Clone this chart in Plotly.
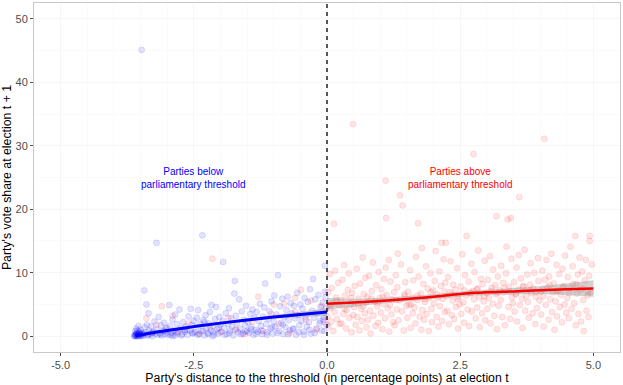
import plotly.graph_objects as go

# ---------------- data ----------------
blue_x = [
    -3.62,-3.61,-3.60,-3.60,-3.59,-3.58,-3.58,-3.57,-3.56,-3.55,-3.55,-3.54,-3.53,-3.52,-3.51,-3.50,-3.49,-3.48,-3.47,-3.46,-3.60,-3.58,-3.56,-3.54,-3.52,-3.50,
    -3.44,-3.42,-3.40,-3.38,-3.36,-3.34,-3.32,-3.30,-3.28,-3.26,-3.24,-3.22,-3.20,-3.18,-3.16,-3.14,-3.12,-3.10,-3.08,-3.06,-3.04,-3.02,-3.00,-3.43,-3.39,-3.20,-2.96,-3.35,-3.48,
    -2.98,-2.95,-2.92,-2.90,-2.87,-2.85,-2.82,-2.80,-2.77,-2.75,-2.72,-2.70,-2.67,-2.65,-2.62,-2.60,-2.57,-2.56,-2.54,-2.52,-2.50,-2.85,-2.68,-2.90,
    -2.48,-2.46,-2.44,-2.42,-2.40,-2.38,-2.36,-2.34,-2.32,-2.30,-2.28,-2.26,-2.24,-2.22,-2.20,-2.18,-2.17,-2.14,-2.12,-2.10,-2.08,-2.06,-2.04,-2.02,-2.00,-2.30,-2.15,
    -1.98,-1.96,-1.95,-1.93,-1.90,-1.88,-1.86,-1.84,-1.82,-1.80,-1.78,-1.76,-1.74,-1.73,-1.71,-1.69,-1.67,-1.65,-1.63,-1.60,-1.58,-1.56,-1.54,-1.52,-1.50,
    -1.48,-1.46,-1.44,-1.42,-1.40,-1.38,-1.36,-1.34,-1.32,-1.30,-1.28,-1.26,-1.24,-1.22,-1.20,-1.18,-1.16,-1.14,-1.12,-1.10,-1.08,-1.06,-1.04,-1.02,-1.00,
    -0.99,-0.97,-0.95,-0.92,-0.90,-0.88,-0.86,-0.84,-0.82,-0.80,-0.78,-0.76,-0.74,-0.72,-0.70,-0.68,-0.66,-0.64,-0.62,-0.60,-0.58,-0.56,-0.54,-0.52,-0.50,
    -0.48,-0.46,-0.44,-0.42,-0.40,-0.38,-0.36,-0.34,-0.32,-0.30,-0.28,-0.26,-0.24,-0.22,-0.20,-0.18,-0.16,-0.14,-0.12,-0.10,-0.08,-0.06,-0.04,-0.04,-0.02,-0.01,-0.03,-0.07,
    -3.57,-3.53,-3.45,-3.37,-3.27,-3.13,-3.05,-2.93,-2.83,-2.73,-2.63,-2.53,-2.43,-2.33,-2.23,-2.13,-2.03,-1.92,-1.83,-1.72,-1.62,-1.53,-1.43,-1.33,-1.23,-1.13,-1.03,-0.93,-0.83,-0.73,-0.63,-0.53,-0.43,-0.33,-0.23,-0.13,-0.05,
]
blue_y = [
    0.0,0.1,0.2,0.0,0.3,0.1,0.5,0.0,0.2,0.4,0.0,0.1,0.3,0.6,0.0,0.2,0.1,0.5,0.3,0.0,0.8,1.2,0.9,1.6,0.4,1.0,
    0.2,1.4,0.6,1.8,0.1,0.9,0.3,1.5,0.0,0.7,2.3,0.4,1.1,0.2,3.0,0.5,1.7,0.1,0.8,2.1,0.3,1.3,0.6,7.2,5.0,14.7,4.9,3.6,45.1,
    0.2,1.6,0.5,2.6,0.9,0.1,1.9,0.4,4.2,1.2,0.3,2.2,0.7,1.5,0.2,3.1,0.9,4.3,1.8,0.4,2.4,3.4,1.0,0.0,
    0.6,1.4,2.9,4.1,0.3,1.9,0.8,15.9,2.5,0.1,3.3,1.2,0.5,2.0,3.8,0.9,4.9,1.6,0.2,2.7,4.6,1.1,0.4,3.0,1.8,2.2,0.0,
    0.7,2.4,11.7,1.3,3.6,0.3,1.9,4.4,0.9,2.8,1.5,0.1,6.7,8.7,3.2,2.1,0.6,5.8,1.2,3.9,0.4,2.6,1.7,4.8,0.8,
    2.2,0.5,3.5,1.4,4.2,0.2,2.9,1.0,3.8,0.7,2.4,5.1,1.6,0.3,3.1,4.5,8.3,1.9,0.6,2.7,3.9,1.2,5.5,0.4,2.3,
    6.4,1.5,3.4,9.6,0.8,4.7,2.1,5.9,0.3,3.0,1.4,4.1,6.2,2.5,0.9,5.2,3.6,1.1,4.8,2.8,0.2,6.8,3.3,1.7,5.0,
    2.4,4.3,0.7,6.0,3.1,1.5,5.4,2.2,7.4,0.4,4.0,9.0,2.9,5.8,1.2,3.6,6.5,2.0,4.6,0.9,5.3,3.0,11.1,7.0,4.4,1.8,6.1,2.6,
    0.3,0.7,0.4,0.2,0.5,0.3,0.9,0.2,0.6,0.1,1.0,0.5,0.2,0.9,0.3,0.6,1.3,0.2,0.5,1.0,0.3,0.7,1.1,0.4,0.9,0.2,1.4,0.5,1.8,0.3,1.2,0.6,0.2,1.0,0.5,2.4,0.8,
]

red_left_x = [-3.39,-3.10,-2.15,-1.29,-0.49,-3.50,-3.30,-3.00,-2.80,-2.60,-2.40,-2.20,-2.00,-1.85,-1.70,-1.55,
              -1.40,-1.20,-1.05,-0.90,-0.80,-0.70,-0.60,-0.40,-0.30,-0.20,-0.10,-0.05,-2.90,-3.20,-1.00,-0.60]
red_left_y = [2.8,4.7,12.2,6.2,7.3,0.3,0.5,1.2,0.7,2.0,0.4,1.4,0.6,2.9,1.1,0.3,
              2.3,0.8,3.5,1.9,5.1,0.5,3.8,2.6,5.6,1.0,4.8,2.2,3.2,1.8,5.0,6.0]

red_x = [
    0.01,0.02,0.03,0.05,0.06,0.08,0.09,0.11,0.12,0.14,0.15,0.17,0.19,0.21,0.23,0.24,0.13,
    0.26,0.27,0.29,0.31,0.32,0.34,0.36,0.37,0.39,0.41,0.42,0.44,0.46,0.47,0.49,0.49,
    0.51,0.52,0.54,0.56,0.57,0.59,0.61,0.62,0.64,0.66,0.67,0.69,0.71,0.72,0.74,0.73,
    0.76,0.77,0.79,0.81,0.82,0.84,0.86,0.87,0.89,0.91,0.92,0.94,0.96,0.97,0.99,
    1.01,1.02,1.04,1.06,1.07,1.09,1.11,1.12,1.14,1.16,1.17,1.19,1.21,1.22,1.24,1.10,1.10,
    1.26,1.27,1.29,1.31,1.32,1.33,1.34,1.36,1.37,1.39,1.41,1.42,1.44,1.46,1.47,1.49,
    1.51,1.52,1.54,1.56,1.57,1.59,1.61,1.62,1.64,1.66,1.67,1.69,1.71,1.72,1.74,
    1.76,1.77,1.78,1.79,1.81,1.82,1.84,1.86,1.87,1.89,1.91,1.92,1.94,1.96,1.97,1.99,
    2.01,2.02,2.04,2.06,2.07,2.09,2.11,2.12,2.14,2.15,2.16,2.17,2.19,2.21,2.22,2.23,2.24,
    2.26,2.27,2.29,2.31,2.32,2.34,2.36,2.37,2.39,2.41,2.42,2.44,2.46,2.47,2.49,
    2.51,2.52,2.54,2.56,2.57,2.59,2.61,2.62,2.64,2.66,2.67,2.69,2.71,2.72,2.74,2.75,
    2.76,2.77,2.79,2.81,2.82,2.84,2.86,2.87,2.89,2.91,2.92,2.94,2.96,2.97,2.99,
    3.01,3.02,3.04,3.06,3.07,3.09,3.11,3.12,3.14,3.16,3.17,3.18,3.19,3.21,3.22,3.24,
    3.26,3.27,3.29,3.31,3.32,3.34,3.36,3.37,3.39,3.41,3.42,3.44,3.45,3.46,3.47,3.49,
    3.51,3.52,3.54,3.56,3.57,3.59,3.60,3.61,3.62,3.64,3.66,3.67,3.69,3.71,3.72,3.74,
    3.76,3.77,3.79,3.81,3.82,3.84,3.86,3.87,3.89,3.91,3.92,3.94,3.96,3.97,3.99,
    4.01,4.02,4.04,4.06,4.07,4.08,4.09,4.11,4.12,4.14,4.16,4.17,4.19,4.21,4.22,4.24,
    4.26,4.27,4.29,4.31,4.32,4.34,4.36,4.37,4.39,4.41,4.42,4.44,4.46,4.47,4.49,
    4.51,4.52,4.54,4.56,4.57,4.59,4.61,4.62,4.64,4.66,4.67,4.69,4.71,4.72,4.74,
    4.76,4.77,4.79,4.81,4.82,4.84,4.86,4.87,4.89,4.91,4.92,4.93,4.93,4.95,4.97,
    0.04,0.18,0.33,0.45,0.58,0.68,0.83,0.95,1.05,1.18,1.30,1.45,1.58,1.70,1.83,1.95,
    2.08,2.20,2.33,2.45,2.58,2.70,2.83,2.95,3.08,3.20,3.33,3.43,3.55,3.68,3.80,3.93,
    4.05,4.18,4.30,4.43,4.55,4.68,4.80,4.90,
]
red_y = [
    3.1,6.9,1.5,9.8,4.4,2.3,7.6,5.2,0.8,3.8,10.3,6.1,2.7,8.4,4.9,1.9,17.7,
    5.6,2.0,8.9,3.5,11.2,6.4,1.2,4.1,7.3,9.9,2.9,5.0,0.6,6.8,3.3,33.4,
    4.6,7.9,1.8,10.6,3.0,5.9,0.9,8.3,4.3,2.4,12.4,6.6,3.6,9.2,1.4,5.3,
    6.2,2.6,9.5,4.0,0.4,7.1,11.6,3.2,5.5,1.6,8.0,4.7,2.1,10.1,6.0,
    3.7,7.4,1.1,5.1,9.0,2.8,18.6,6.5,4.4,12.0,0.7,8.6,3.4,5.8,2.2,10.8,24.5,
    6.9,1.7,9.6,4.2,7.7,13.0,2.5,5.6,22.2,11.3,3.9,20.6,0.9,6.3,8.5,4.8,
    2.9,7.0,5.0,10.4,1.3,6.1,3.6,8.8,4.5,2.0,12.5,5.7,17.8,9.4,3.1,
    6.7,1.0,13.9,4.1,8.2,2.6,5.4,11.0,3.5,7.5,0.8,6.0,9.9,4.3,2.2,7.2,
    5.2,8.7,13.4,3.0,6.6,1.5,10.2,4.7,7.9,14.7,2.4,5.9,12.1,3.8,8.4,14.7,6.3,
    4.0,9.3,1.9,6.9,11.8,3.3,5.6,8.1,2.7,7.3,4.6,10.7,1.2,6.2,5.0,
    7.8,3.5,12.9,5.3,2.1,9.6,6.4,15.8,4.2,8.6,1.6,6.9,11.4,3.9,7.1,28.7,
    5.8,10.1,2.8,7.4,4.5,13.5,6.2,1.4,9.0,3.6,8.2,5.5,11.9,2.5,6.8,
    4.3,8.9,6.0,12.6,2.0,7.6,5.1,10.5,3.2,8.0,6.6,18.9,1.1,9.4,4.8,7.2,
    5.7,11.1,3.0,8.4,6.9,1.7,9.9,14.1,18.4,4.6,7.8,2.7,18.6,12.2,6.1,5.2,
    8.5,3.9,6.7,10.8,2.3,7.3,12.8,21.9,4.9,9.1,5.9,1.3,7.9,13.6,4.0,6.4,
    9.7,5.4,2.9,8.1,11.5,6.8,3.6,7.5,10.0,1.9,6.2,4.4,12.3,8.7,5.6,
    7.0,3.4,10.3,6.3,1.5,31.1,8.9,4.9,12.0,7.7,2.6,9.4,5.8,13.0,3.8,6.9,
    8.3,1.0,5.5,11.2,3.1,7.2,9.8,4.6,6.5,2.2,10.6,7.9,5.0,12.7,3.7,
    6.0,9.3,2.8,7.6,14.1,4.3,11.0,8.2,5.2,15.8,1.7,6.7,9.7,3.5,12.4,
    7.3,2.3,10.2,5.7,0.8,8.8,12.0,4.0,6.4,3.0,9.5,15.8,15.0,6.9,11.3,
    4.8,5.6,4.3,6.0,5.1,4.7,5.9,5.3,6.2,4.9,5.7,6.6,5.0,6.4,5.8,6.9,
    6.1,7.0,6.5,5.9,7.2,6.7,7.5,6.3,7.1,6.8,7.6,7.0,6.6,7.8,7.2,6.9,
    7.4,8.0,7.1,7.7,6.8,8.2,7.5,7.0,
]

# smoothed fits
blue_fit_x = [-3.6, -3.3, -3.0, -2.5, -2.0, -1.5, -1.0, -0.5, 0.0]
blue_fit_y = [0.05, 0.5, 0.9, 1.5, 2.05, 2.55, 3.0, 3.4, 3.8]
blue_fit_se = [0.15, 0.15, 0.15, 0.2, 0.2, 0.2, 0.25, 0.4, 0.6]

red_fit_x = [0.0, 0.5, 1.0, 1.5, 2.0, 2.5, 3.0, 3.5, 4.0, 4.5, 5.0]
red_fit_y = [5.1, 5.3, 5.55, 5.85, 6.2, 6.65, 6.9, 7.05, 7.25, 7.4, 7.5]
red_fit_se = [0.9, 0.6, 0.45, 0.4, 0.4, 0.4, 0.4, 0.45, 0.6, 0.9, 1.3]

x_ticks = [-5, -2.5, 0, 2.5, 5]
x_tick_labels = ["-5.0", "-2.5", "0.0", "2.5", "5.0"]
y_ticks = [0, 10, 20, 30, 40, 50]

# ---------------- figure ----------------
fig = go.Figure()

BLUE_PT = "rgba(0,0,255,0.11)"
RED_PT = "rgba(255,0,0,0.10)"

def pts(xs, ys, col):
    return go.Scatter(x=xs, y=ys, mode="markers", showlegend=False,
                      marker=dict(size=6, color=col, line=dict(width=1, color=col)))

fig.add_trace(pts(red_x, red_y, RED_PT))
fig.add_trace(pts(red_left_x, red_left_y, RED_PT))
fig.add_trace(pts(blue_x, blue_y, BLUE_PT))

def band(xs, ys, se):
    up = [y + s for y, s in zip(ys, se)]
    lo = [y - s for y, s in zip(ys, se)]
    return xs + xs[::-1], up + lo[::-1]

bx, by = band(blue_fit_x, blue_fit_y, blue_fit_se)
fig.add_trace(go.Scatter(x=bx, y=by, fill="toself", fillcolor="rgba(153,153,153,0.45)",
                         line=dict(width=0), mode="lines", showlegend=False, hoverinfo="skip"))
rx, ry = band(red_fit_x, red_fit_y, red_fit_se)
fig.add_trace(go.Scatter(x=rx, y=ry, fill="toself", fillcolor="rgba(153,153,153,0.45)",
                         line=dict(width=0), mode="lines", showlegend=False, hoverinfo="skip"))

fig.add_trace(go.Scatter(x=blue_fit_x, y=blue_fit_y, mode="lines",
                         line=dict(color="#0000ff", width=3, shape="spline"), showlegend=False))
fig.add_trace(go.Scatter(x=red_fit_x, y=red_fit_y, mode="lines",
                         line=dict(color="#ff0000", width=2.5, shape="spline"), showlegend=False))

fig.add_shape(type="line", x0=0, x1=0, y0=0, y1=1, xref="x", yref="paper",
              line=dict(color="black", width=1.3, dash="4px,4px"))

fig.add_annotation(x=-2.5, y=25, text="Parties below<br>parliamentary threshold", showarrow=False,
                   font=dict(color="#0000ff", size=10, family="Liberation Sans, Arial"))
fig.add_annotation(x=2.5, y=25, text="Parties above<br>parliamentary threshold", showarrow=False,
                   font=dict(color="#ff0000", size=10, family="Liberation Sans, Arial"))

axis_common = dict(showline=True, linecolor="#c8c8c8", linewidth=1, mirror=True,
                   ticks="outside", ticklen=3, tickcolor="#4d4d4d", tickwidth=1,
                   gridcolor="#f6f6f6", zeroline=False,
                   tickfont=dict(size=11, color="#4d4d4d", family="Liberation Sans, Arial"),
                   minor=dict(showgrid=True, gridcolor="#fafafa"))

fig.update_xaxes(range=[-5.5, 5.5], tickvals=x_ticks, ticktext=x_tick_labels,
                 title=dict(text="Party's distance to the threshold (in percentage points) at election t",
                            font=dict(size=12.3, color="black", family="Liberation Sans, Arial"), standoff=3),
                 **axis_common)
fig.update_yaxes(range=[-2.5, 52.5], tickvals=y_ticks,
                 title=dict(text="Party's vote share at election t + 1",
                            font=dict(size=12.3, color="black", family="Liberation Sans, Arial"), standoff=3),
                 **axis_common)

fig.update_layout(width=623, height=385, margin=dict(l=34, r=2, t=2, b=31),
                  plot_bgcolor="white", paper_bgcolor="white")

fig.write_html("out.html", config={"displayModeBar": False},
               post_script="document.body.style.margin='0';")
